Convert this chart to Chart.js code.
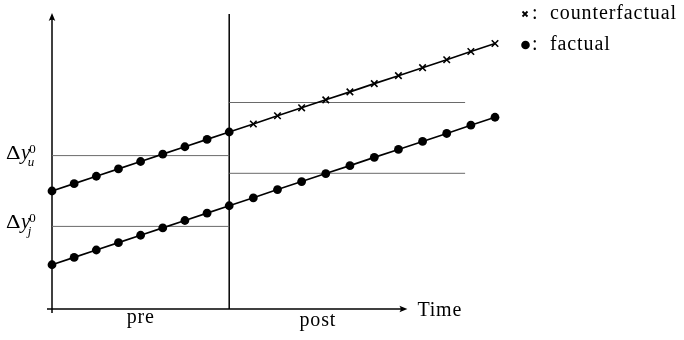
<!DOCTYPE html>
<html><head><meta charset="utf-8">
<script src="https://cdn.jsdelivr.net/npm/chart.js@4"></script>
<style>html,body{margin:0;padding:0;background:#fff}canvas{display:block}</style>
</head><body>
<canvas id="c" width="684" height="340"></canvas>
<script>
// ---- data (time units / outcome units) ----
const preTimes = [0, 1, 2, 3, 4, 5, 6, 7, 8];
const postTimes = [9.09, 10.18, 11.27, 12.36, 13.45, 14.55, 15.64, 16.73, 17.82, 18.91, 20.0];
const upperFactual = [4.0, 4.25, 4.5, 4.75, 5.0, 5.25, 5.5, 5.75, 6.0];
const upperCounterfactual = [6.27, 6.55, 6.82, 7.09, 7.36, 7.64, 7.91, 8.18, 8.45, 8.73, 9.0];
const lowerFactualPre = [1.5, 1.75, 2.0, 2.25, 2.5, 2.75, 3.0, 3.25, 3.5];
const lowerFactualPost = [3.77, 4.05, 4.32, 4.59, 4.86, 5.14, 5.41, 5.68, 5.95, 6.23, 6.5];
const preLevels = [5.2, 2.8];     // upper (u), lower (j)
const postLevels = [7.0, 4.6];    // upper, lower
const periodBounds = [0, 8, 18.65];
const periodLabels = ['pre', 'post'];
const levelLabelSubs = ['u', 'j'];
const legendLabels = ['counterfactual', 'factual'];
const axisLabel = 'Time';
const xAxisEnd = 16;
const xRange = [0, 20];
const yRange = [0, 10];

const FONT = '"Liberation Serif", "DejaVu Serif", serif';

const pts = (xs, ys) => xs.map((x, i) => ({x: x, y: ys[i]}));
const upperData = pts(preTimes, upperFactual).concat(pts(postTimes, upperCounterfactual));
const lowerData = pts(preTimes, lowerFactualPre).concat(pts(postTimes, lowerFactualPost));
const nPre = preTimes.length;
const styleArr = (a, b) => upperData.map((_, i) => i < nPre ? a : b);

const refLine = (x0, x1, y) => ({
  data: [{x: x0, y: y}, {x: x1, y: y}],
  borderColor: '#6a6a6a', borderWidth: 1, pointRadius: 0, order: 5, clip: false
});

function arrowHead(ctx, x, y, angle) {
  ctx.save();
  ctx.translate(x, y); ctx.rotate(angle);
  ctx.beginPath();
  ctx.moveTo(0, 0);
  ctx.lineTo(-8, -3.3);
  ctx.quadraticCurveTo(-5.5, 0, -8, 3.3);
  ctx.closePath();
  ctx.fillStyle = '#000'; ctx.fill();
  ctx.restore();
}

function drawLevelLabel(ctx, xLeft, y, sub, baseOff) {
  const base = y + baseOff;
  ctx.fillStyle = '#000';
  ctx.textAlign = 'left'; ctx.textBaseline = 'alphabetic';
  // wide upright Delta
  ctx.save();
  ctx.translate(xLeft, base);
  ctx.scale(1.25, 1);
  ctx.font = '18px ' + FONT;
  ctx.fillText('\u0394', 0, 0);
  const wD = ctx.measureText('\u0394').width * 1.25;
  ctx.restore();
  ctx.font = 'italic 21px ' + FONT;
  const xy = xLeft + wD + 0.5;
  ctx.fillText('y', xy, base);
  const wy = ctx.measureText('y').width;
  ctx.font = '13px ' + FONT;
  ctx.fillText('0', xy + wy - 1, base - 6);
  ctx.font = 'italic 13px ' + FONT;
  ctx.fillText(sub, xy + wy - 2.5, base + 7);
}

const decor = {
  id: 'decor',
  beforeDatasetsDraw(chart) {
    const {ctx, scales: {x, y}} = chart;
    const x0 = x.getPixelForValue(0), y0 = y.getPixelForValue(0);
    const yTop = y.getPixelForValue(yRange[1]);
    const xEnd = x.getPixelForValue(xAxisEnd);
    ctx.save();
    ctx.strokeStyle = '#000'; ctx.lineWidth = 1.5;
    // y axis
    ctx.beginPath(); ctx.moveTo(x0, y0 + 4); ctx.lineTo(x0, yTop + 3); ctx.stroke();
    arrowHead(ctx, x0, yTop - 1, -Math.PI / 2);
    // x axis
    ctx.beginPath(); ctx.moveTo(x0 - 5, y0); ctx.lineTo(xEnd - 3, y0); ctx.stroke();
    arrowHead(ctx, xEnd + 1, y0, 0);
    // intervention line
    const xm = x.getPixelForValue(periodBounds[1]);
    ctx.beginPath(); ctx.moveTo(xm, y0); ctx.lineTo(xm, yTop); ctx.stroke();
    ctx.restore();
  },
  afterDatasetsDraw(chart) {
    const {ctx, scales: {x, y}} = chart;
    const y0 = y.getPixelForValue(0);
    ctx.save();
    ctx.fillStyle = '#000';
    ctx.font = '20px ' + FONT;
    ctx.letterSpacing = '0.8px';
    ctx.textAlign = 'center'; ctx.textBaseline = 'alphabetic';
    const cPre = x.getPixelForValue((periodBounds[0] + periodBounds[1]) / 2);
    const cPost = x.getPixelForValue((periodBounds[1] + xAxisEnd) / 2);
    ctx.fillText(periodLabels[0], cPre, y0 + 14);
    ctx.fillText(periodLabels[1], cPost, y0 + 17);
    ctx.textAlign = 'left';
    ctx.fillText(axisLabel, x.getPixelForValue(xAxisEnd) + 11, y0 + 7);
    ctx.letterSpacing = '0px';
    // level labels
    drawLevelLabel(ctx, 6, y.getPixelForValue(preLevels[0]), levelLabelSubs[0], 3);
    drawLevelLabel(ctx, 6, y.getPixelForValue(preLevels[1]), levelLabelSubs[1], 2);
    // legend
    const lx = 525;
    ctx.strokeStyle = '#000'; ctx.lineWidth = 1.8;
    ctx.beginPath();
    ctx.moveTo(lx - 2.5, 11.5); ctx.lineTo(lx + 2.5, 16.5);
    ctx.moveTo(lx + 2.5, 11.5); ctx.lineTo(lx - 2.5, 16.5);
    ctx.stroke();
    ctx.beginPath(); ctx.arc(lx + 0.5, 45, 4.3, 0, Math.PI * 2); ctx.fill();
    ctx.font = '20px ' + FONT;
    ctx.fillText(':', lx + 7, 19);
    ctx.fillText(':', lx + 7, 50);
    ctx.letterSpacing = '0.9px';
    ctx.fillText(legendLabels[0], lx + 25, 19);
    ctx.fillText(legendLabels[1], lx + 25, 50);
    ctx.restore();
  }
};

new Chart(document.getElementById('c'), {
  type: 'line',
  data: {
    datasets: [
      {
        data: upperData, borderColor: '#000', borderWidth: 1.6,
        pointStyle: styleArr('circle', 'crossRot'),
        pointRadius: styleArr(4.4, 4.6),
        pointBorderWidth: styleArr(0, 1.6),
        pointBackgroundColor: '#000', pointBorderColor: '#000',
        order: 0, clip: false, tension: 0
      },
      {
        data: lowerData, borderColor: '#000', borderWidth: 1.6,
        pointStyle: 'circle', pointRadius: 4.4, pointBorderWidth: 0,
        pointBackgroundColor: '#000', order: 0, clip: false, tension: 0
      },
      refLine(periodBounds[0], periodBounds[1], preLevels[0]),
      refLine(periodBounds[0], periodBounds[1], preLevels[1]),
      refLine(periodBounds[1], periodBounds[2], postLevels[0]),
      refLine(periodBounds[1], periodBounds[2], postLevels[1])
    ]
  },
  options: {
    responsive: false, animation: false, events: [],
    layout: {padding: {left: 52, right: 189, top: 14, bottom: 31}},
    scales: {
      x: {type: 'linear', min: xRange[0], max: xRange[1], display: false},
      y: {type: 'linear', min: yRange[0], max: yRange[1], display: false}
    },
    plugins: {legend: {display: false}, tooltip: {enabled: false}}
  },
  plugins: [decor]
});
</script>
</body></html>
